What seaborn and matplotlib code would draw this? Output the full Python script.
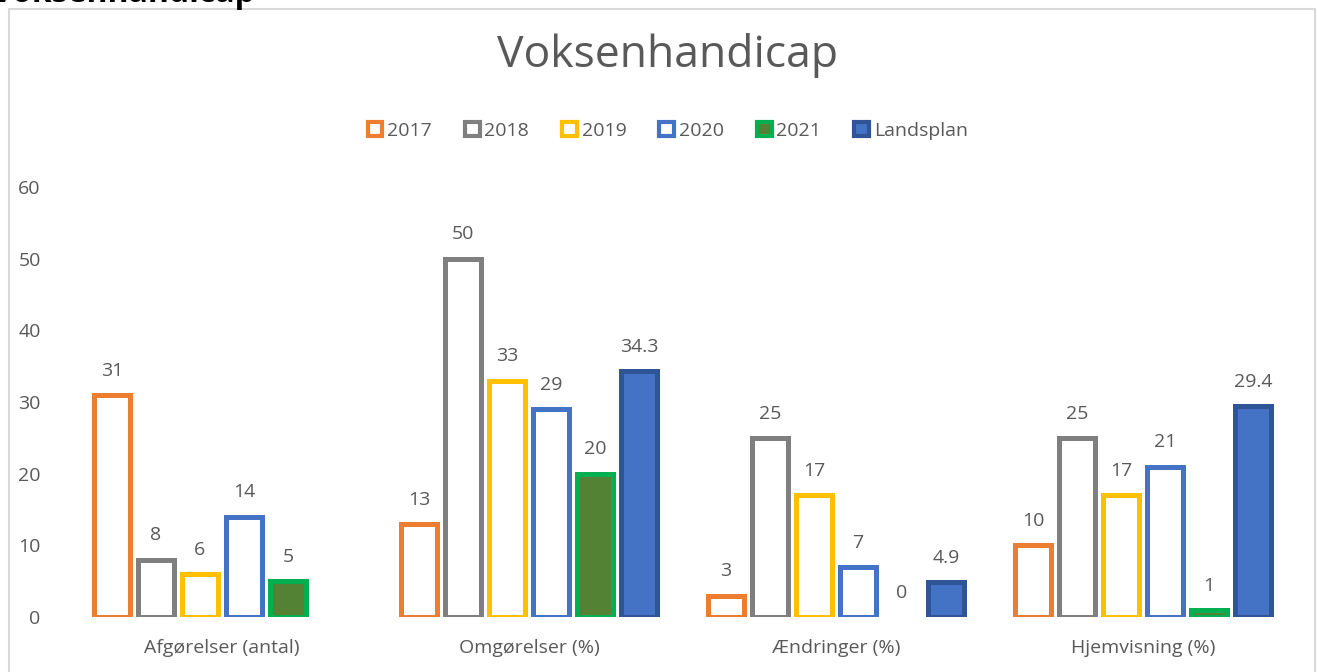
import numpy as np
import pandas as pd
import matplotlib
matplotlib.use("Agg")
import matplotlib.pyplot as plt
import seaborn as sns
from matplotlib.patches import Rectangle

# data
categories = ["Afgørelser (antal)", "Omgørelser (%)", "Ændringer (%)", "Hjemvisning (%)"]
series = ["2017", "2018", "2019", "2020", "2021", "Landsplan"]
v2017 = [31, 13, 3, 10]
v2018 = [8, 50, 25, 25]
v2019 = [6, 33, 17, 17]
v2020 = [14, 29, 7, 21]
v2021 = [5, 20, 0, 1]
vlands = [np.nan, 34.3, 4.9, 29.4]

edge_colors = ["#ED7D31", "#7F7F7F", "#FFC000", "#4472C4", "#00B050", "#2F5597"]
fill_colors = ["white", "white", "white", "white", "#548235", "#4472C4"]
text_col = "#595959"

rows = []
for name, vals in zip(series, [v2017, v2018, v2019, v2020, v2021, vlands]):
    for cat, v in zip(categories, vals):
        rows.append({"cat": cat, "serie": name, "val": v})
df = pd.DataFrame(rows)

sns.set_theme(style="white")
plt.rcParams["font.family"] = ["Open Sans", "DejaVu Sans"]

fig = plt.figure(figsize=(13.17, 6.72), dpi=100)
ax = fig.add_axes([68.5 / 1317, 1 - 617 / 672, (1296.5 - 68.5) / 1317, 430 / 672])

sns.barplot(data=df, x="cat", y="val", hue="serie", order=categories, hue_order=series,
            palette=edge_colors, width=0.86, gap=0.18, ax=ax, legend=False)

# restyle bars excel-like: coloured outline, fill inside
for container, ec, fc in zip(ax.containers, edge_colors, fill_colors):
    labels = []
    for bar in container:
        h = bar.get_height()
        bar.set_facecolor(fc)
        bar.set_edgecolor(ec)
        bar.set_joinstyle("miter")
        # excel draws nothing for a zero bar
        bar.set_linewidth(0 if (np.isnan(h) or h == 0) else 3.6)
        labels.append("" if np.isnan(h) else f"{h:g}")
    ax.bar_label(container, labels=labels, padding=11, color=text_col, fontsize=14)

ax.set_ylim(0, 60)
ax.set_yticks(range(0, 61, 10))
ax.set_xlim(-0.5, 3.5)
ax.set_xlabel("")
ax.set_ylabel("")
ax.tick_params(axis="y", colors=text_col, labelsize=14, length=0, pad=20)
ax.tick_params(axis="x", colors=text_col, labelsize=14, length=0, pad=16)
for s in ax.spines.values():
    s.set_visible(False)
ax.grid(False)
ax.set_facecolor("none")

# legend
handles = [Rectangle((0, 0), 1, 1, facecolor=fc, edgecolor=ec, linewidth=3)
           for ec, fc in zip(edge_colors, fill_colors)]
fig.legend(handles, series, loc="center", bbox_to_anchor=(0.507, 1 - 131 / 672),
           ncol=6, frameon=False, fontsize=14, labelcolor=text_col,
           handlelength=0.75, handleheight=0.75, handletextpad=0.25, columnspacing=1.7)

# title
fig.text(0.507, 1 - 55 / 672, "Voksenhandicap", ha="center", va="center",
         fontsize=32, color=text_col)

# cut-off heading above the chart box (only its lower edge shows)
fig.text(-8 / 1317, 1 - 1.5 / 672, "Voksenhandicap", ha="left", va="baseline",
         fontsize=23, fontweight="bold", color="black")

# chart border
fig.patches.append(Rectangle((9 / 1317, -0.01), 1306 / 1317, 1 - 9 / 672 + 0.01,
                             transform=fig.transFigure, fill=False,
                             edgecolor="#D9D9D9", linewidth=1.5))

fig.savefig("out.png", dpi=100)
